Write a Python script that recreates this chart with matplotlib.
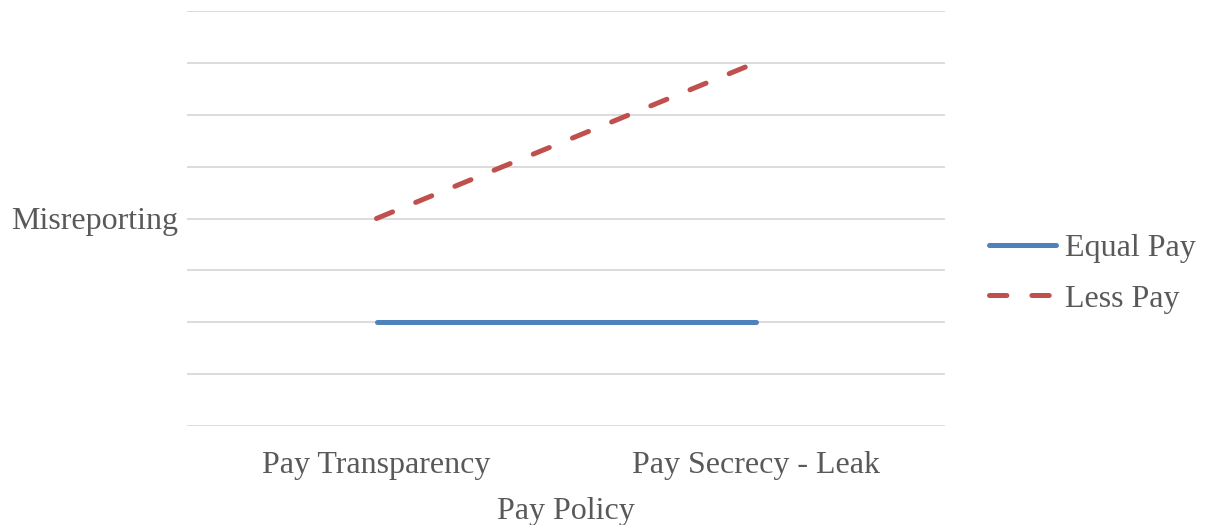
import matplotlib
matplotlib.use("Agg")
import matplotlib.pyplot as plt

categories = ["Pay Transparency", "Pay Secrecy - Leak"]
equal_pay = [2, 2]
less_pay = [4, 7]
series_names = ["Equal Pay", "Less Pay"]

plt.rcParams['font.family'] = ['Liberation Serif', 'DejaVu Serif']
plt.rcParams['lines.scale_dashes'] = False
text_color = "#595959"
fs = 23

fig = plt.figure(figsize=(12.1, 5.25), dpi=100)
ax = fig.add_axes([187/1210, 1-426/525, (945-187)/1210, (426-11)/525])

x = list(range(len(categories)))
ax.plot(x, equal_pay, color="#4F81BD", lw=3.6, solid_capstyle="round", label=series_names[0])
ln, = ax.plot(x, less_pay, color="#C0504D", lw=3.6, dash_capstyle="round", label=series_names[1])
ln.set_dashes((12.5, 18))

ax.set_xlim(-0.5, 1.5)
ax.set_ylim(0, 8)
ax.set_yticks(range(0, 9))
ax.set_yticklabels([])
ax.tick_params(axis='y', length=0)
ax.tick_params(axis='x', length=0, pad=18, labelsize=fs, labelcolor=text_color)
ax.set_xticks(x)
ax.set_xticklabels(categories)
ax.grid(axis='y', color="#D9D9D9", lw=1.3)
ax.set_axisbelow(True)
for s in ax.spines.values():
    s.set_visible(False)

ax.set_xlabel("Pay Policy", fontsize=fs, color=text_color, labelpad=12)
ax.set_ylabel("Misreporting", fontsize=fs, color=text_color, rotation=0, ha='right', va='center')
ax.yaxis.set_label_coords(-0.012, 0.5 - 3/415)

leg = fig.legend(loc='center left', bbox_to_anchor=(989/1210, 1-273.5/525), frameon=False,
                 fontsize=fs, handlelength=2.1, handletextpad=0.28, labelspacing=0.67,
                 borderpad=0, borderaxespad=0)
for t in leg.get_texts():
    t.set_color(text_color)

fig.savefig("out.png", dpi=100)
